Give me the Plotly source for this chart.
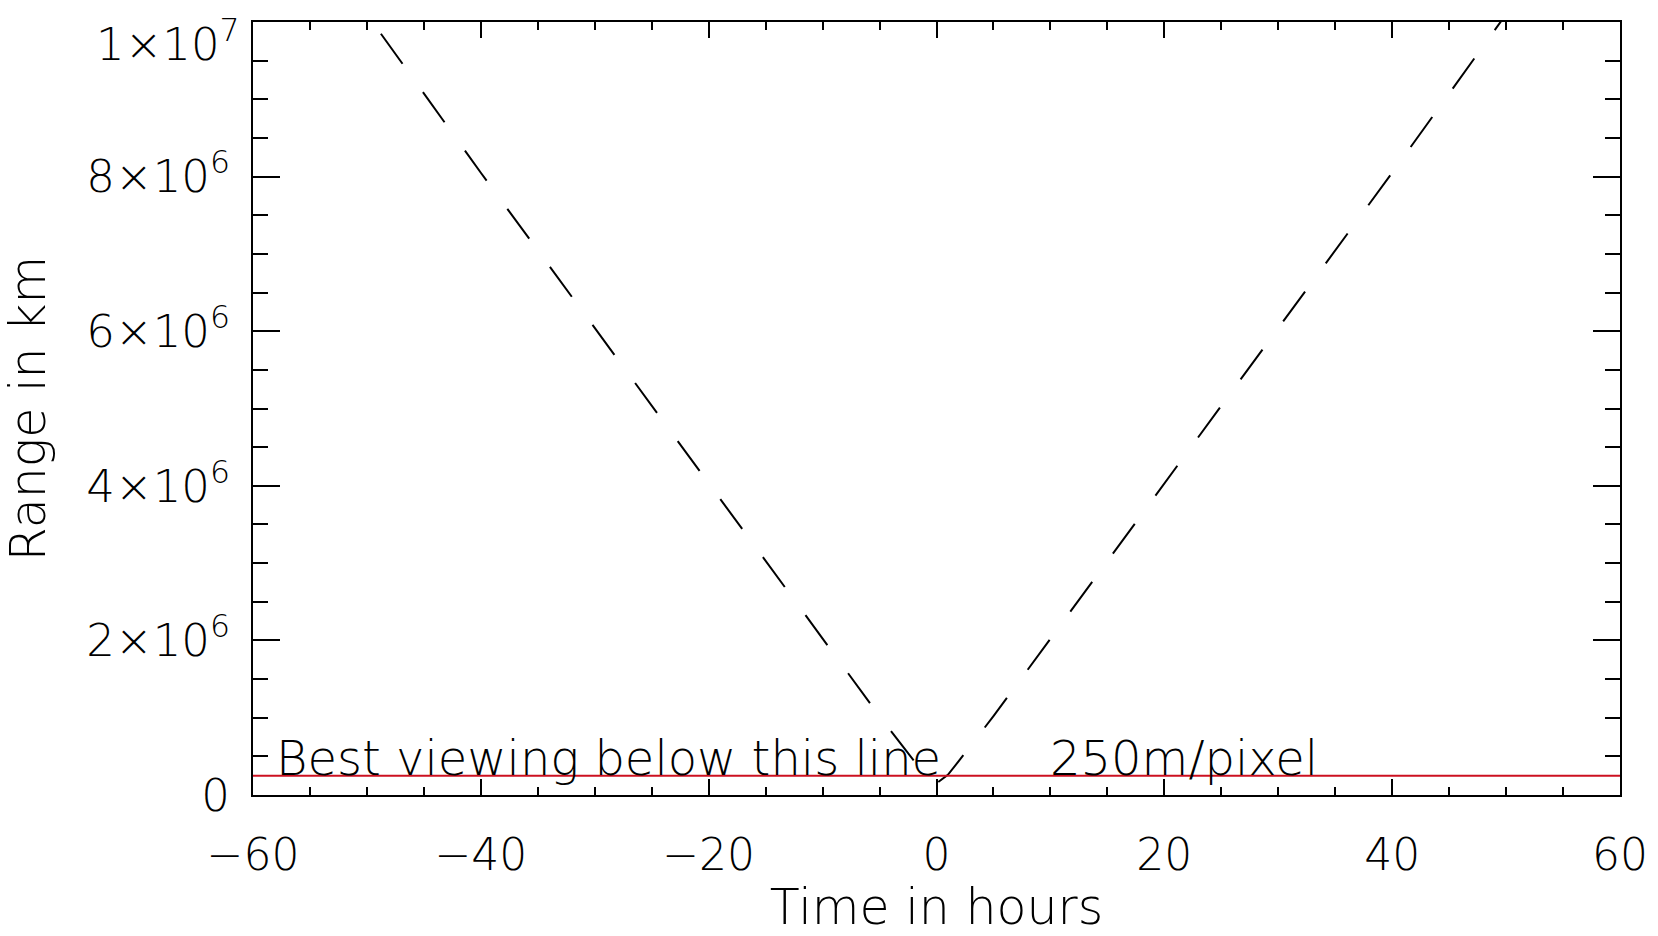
import plotly.graph_objects as go

# Data
time_hours = [-60, -50, -40, -30, -20, -10, -5, -2.6, -1, 0, 1, 2.6, 5, 10, 20, 30, 40, 50, 60]
range_km = [1.21e7, 1.01e7, 8.05e6, 6.04e6, 4.03e6, 2.02e6, 1.02e6, 5.6e5, 2.6e5, 1.5e5,
            2.6e5, 5.6e5, 1.02e6, 2.02e6, 4.03e6, 6.04e6, 8.05e6, 1.01e7, 1.21e7]
best_view_km = 2.5e5
x_ticks = [-60, -40, -20, 0, 20, 40, 60]
y_ticks = [0, 2e6, 4e6, 6e6, 8e6, 1e7]
y_ticktext = ["0", "2×10<sup>6</sup>", "4×10<sup>6</sup>", "6×10<sup>6</sup>",
              "8×10<sup>6</sup>", ""]
y_top_label = "1×10<sup>7</sup>"

FONT = "DejaVu Sans"

fig = go.Figure()
fig.add_trace(go.Scatter(
    x=time_hours, y=range_km, mode="lines",
    line=dict(color="black", width=2, dash="37px,35px"),
    showlegend=False, hoverinfo="skip"))
fig.add_trace(go.Scatter(
    x=[-60, 60], y=[best_view_km, best_view_km], mode="lines",
    line=dict(color="#cc1020", width=2),
    showlegend=False, hoverinfo="skip"))

fig.add_annotation(x=-58.2, y=best_view_km, xref="x", yref="y",
                   text="Best viewing below this line", showarrow=False,
                   xanchor="left", yanchor="bottom", yshift=-12,
                   font=dict(family=FONT, size=48, color="black", weight=300))
fig.add_annotation(x=9.8, y=best_view_km, xref="x", yref="y",
                   text="250m/pixel", showarrow=False,
                   xanchor="left", yanchor="bottom", yshift=-12,
                   font=dict(family=FONT, size=48, color="black", weight=300))
# top y tick label, drawn slightly lower so it stays inside the page
fig.add_annotation(x=0, y=y_ticks[-1], xref="paper", yref="y",
                   text=y_top_label, showarrow=False,
                   xanchor="right", yanchor="middle", xshift=-11, yshift=-19,
                   font=dict(family=FONT, size=45, color="black", weight=300))

fig.update_xaxes(
    range=[-60, 60], tickvals=x_ticks, ticks="inside", ticklen=16, tickwidth=2,
    tickcolor="black", showline=True, linecolor="black", linewidth=2, mirror="ticks",
    showgrid=False, zeroline=False, ticklabelstandoff=20, ticklabeloverflow="allow",
    automargin=False,
    minor=dict(dtick=5, ticks="inside", ticklen=8, tickwidth=2, tickcolor="black", showgrid=False),
    tickfont=dict(family=FONT, size=44, color="black", weight=300),
    title=dict(text="Time in hours", standoff=26,
               font=dict(family=FONT, size=49, color="black", weight=300)))
fig.update_yaxes(
    range=[0, 1e7], tickvals=y_ticks, ticktext=y_ticktext, ticks="inside", ticklen=27,
    tickwidth=2, tickcolor="black", showline=True, linecolor="black", linewidth=2,
    mirror="ticks", showgrid=False, zeroline=False, ticklabelstandoff=12,
    ticklabeloverflow="allow", automargin=False,
    minor=dict(dtick=5e5, ticks="inside", ticklen=15, tickwidth=2, tickcolor="black", showgrid=False),
    tickfont=dict(family=FONT, size=45, color="black", weight=300),
    title=dict(text="Range in km", standoff=26,
               font=dict(family=FONT, size=49, color="black", weight=300)))

fig.update_layout(
    width=1658, height=936,
    margin=dict(l=253, r=38, t=22, b=141),
    plot_bgcolor="white", paper_bgcolor="white")

fig.write_html("out.html")
